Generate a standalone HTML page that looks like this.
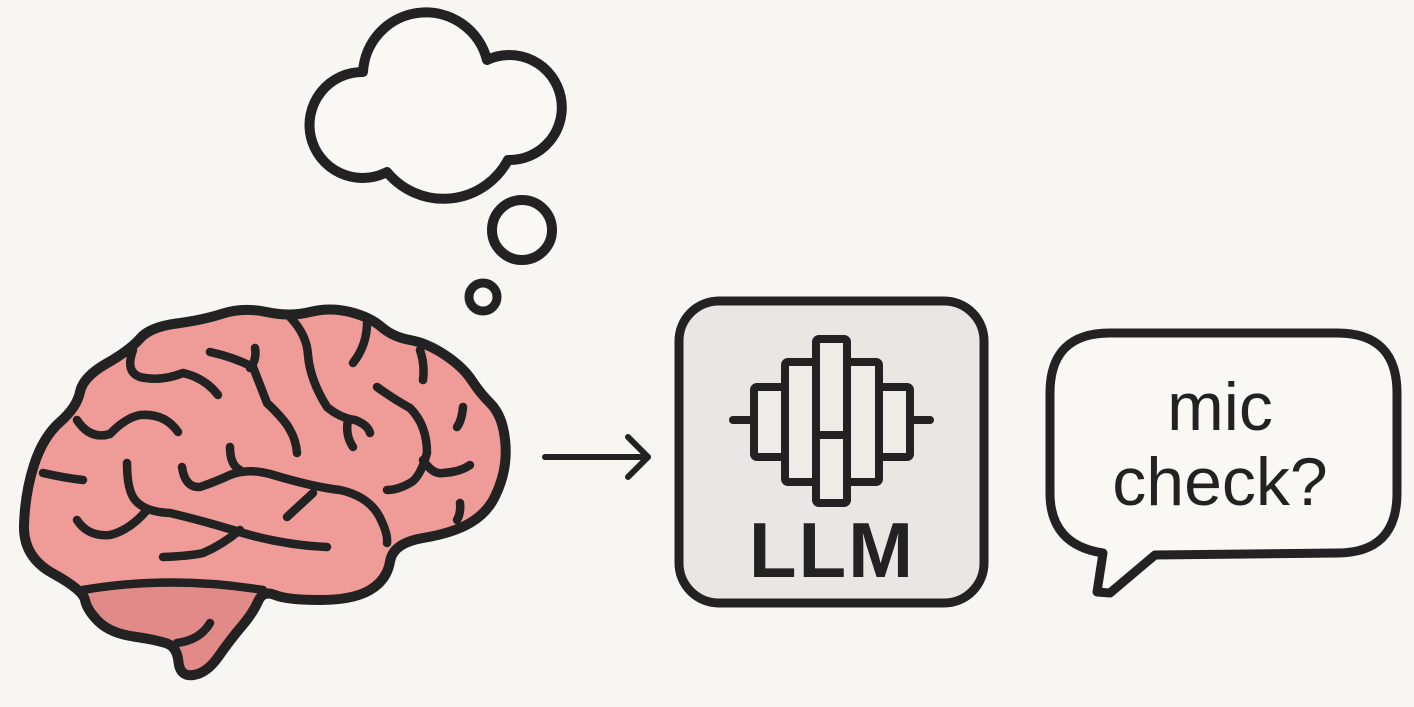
<!DOCTYPE html>
<html><head><meta charset="utf-8"><style>
html,body{margin:0;padding:0;background:#f8f6f2;}
svg{display:block;}
</style></head><body>
<svg width="1414" height="707" viewBox="0 0 1414 707" xmlns="http://www.w3.org/2000/svg">
<rect width="1414" height="707" fill="#f8f6f2"/>
<!-- thought cloud -->
<path d="M363,72 A63,63 0 0 1 487,60 A52.5,52.5 0 1 1 508,160 A73,73 0 0 1 387,172 A53,53 0 1 1 363,72 Z" fill="#f9f8f5" stroke="#222" stroke-width="10" stroke-linejoin="round"/>
<circle cx="522" cy="230" r="30" fill="#f9f8f5" stroke="#222" stroke-width="10"/>
<circle cx="483" cy="297" r="14" fill="#f9f8f5" stroke="#222" stroke-width="9"/>
<!-- brain -->
<g stroke-linecap="round" stroke-linejoin="round" fill="none">
<path d="M85,600 Q83,590 53,573.5 Q23,557 24,525 Q25,493 34,465 Q43,437 60,422 Q77,407 80,392 Q83,377 106.5,363.5 Q130,350 140,338.5 Q150,327 176.5,323.5 Q203,320 223,313.5 Q243,307 266.5,312 Q290,317 310,312 Q330,307 350,312 Q370,317 381.5,327 Q393,337 410,340 Q427,343 445,355 Q463,367 471.5,380 Q480,393 490,403 Q500,413 503.5,430 Q507,447 505,463.5 Q503,480 495,496.5 Q487,513 470,523 Q453,533 423,538 Q393,543 390,561.5 Q387,580 370,590 Q353,600 320,600 Q287,600 275,595 Q263,590 258,601.5 Q253,613 241.5,626.5 Q230,640 218.5,656.5 Q207,673 193.5,675 Q180,677 178.5,662 Q177,647 167,643.5 Q157,640 133.5,636.5 Q110,633 98.5,621.5 Q87,610 85,600 Z" fill="#ef9b98" stroke="none"/>
<path d="M83,590 Q170,575 263,590 L258,601 Q253,613 241,627 Q230,640 218,657 Q207,673 193,675 Q180,677 178,662 Q177,647 167,643 Q157,640 133,636 Q110,633 98,621 Q87,610 83,590 Z" fill="#e28a88" stroke="none"/>
<path d="M85,600 Q83,590 53,573.5 Q23,557 24,525 Q25,493 34,465 Q43,437 60,422 Q77,407 80,392 Q83,377 106.5,363.5 Q130,350 140,338.5 Q150,327 176.5,323.5 Q203,320 223,313.5 Q243,307 266.5,312 Q290,317 310,312 Q330,307 350,312 Q370,317 381.5,327 Q393,337 410,340 Q427,343 445,355 Q463,367 471.5,380 Q480,393 490,403 Q500,413 503.5,430 Q507,447 505,463.5 Q503,480 495,496.5 Q487,513 470,523 Q453,533 423,538 Q393,543 390,561.5 Q387,580 370,590 Q353,600 320,600 Q287,600 275,595 Q263,590 258,601.5 Q253,613 241.5,626.5 Q230,640 218.5,656.5 Q207,673 193.5,675 Q180,677 178.5,662 Q177,647 167,643.5 Q157,640 133.5,636.5 Q110,633 98.5,621.5 Q87,610 85,600 Z" stroke="#222" stroke-width="10"/>
<g stroke="#222" stroke-width="8.5">
<path d="M83,590 Q170,575 263,590"/>
<path d="M210,623 Q200,640 177,643"/>
<path d="M210,352 Q233,357 253,367 Q262,390 267,403 Q285,420 290,430 Q296,440 297,453"/>
<path d="M255,348 Q257,360 250,368"/>
<path d="M133,350 Q125,372 140,377 Q160,382 183,373 Q205,378 218,395"/>
<path d="M77,420 Q90,440 110,434 Q125,418 140,415 Q165,413 178,432"/>
<path d="M43,473 Q65,478 83,480"/>
<path d="M127,463 Q127,490 135,500 Q145,512 170,513 Q200,520 233,530 Q280,545 327,547"/>
<path d="M77,520 Q88,537 110,535 Q130,530 147,510"/>
<path d="M182,467 Q185,488 200,487 Q215,482 230,475 Q248,468 270,474 Q313,487 340,490 Q372,497 382,522 Q388,535 387,543"/>
<path d="M230,447 Q230,465 240,470"/>
<path d="M287,517 Q300,505 313,493"/>
<path d="M163,557 Q190,556 203,553 Q222,545 240,530"/>
<path d="M290,317 Q307,335 308,355 Q310,380 327,407 Q340,418 355,420 Q368,425 370,433"/>
<path d="M348,420 Q345,435 353,447"/>
<path d="M367,323 Q367,345 353,363"/>
<path d="M377,387 Q395,400 410,408 Q427,425 427,453 Q420,478 410,483 Q398,490 387,490"/>
<path d="M420,350 Q425,365 423,380"/>
<path d="M463,407 Q462,420 457,427"/>
<path d="M423,460 Q433,475 443,473 Q460,472 470,465"/>
<path d="M460,503 Q461,513 457,520"/>
</g>
</g>
<!-- arrow -->
<g stroke="#222" stroke-width="6" stroke-linecap="round" stroke-linejoin="round" fill="none">
<line x1="545" y1="457" x2="648" y2="457"/>
<polyline points="628,437 648,457 628,477"/>
</g>
<!-- LLM box -->
<rect x="679" y="301" width="305" height="302" rx="40" fill="#e9e7e3" stroke="#222" stroke-width="9"/>
<g stroke="#222" stroke-width="8" stroke-linecap="round" stroke-linejoin="round" fill="#eeece8">
<line x1="733" y1="420" x2="930" y2="420"/>
<rect x="754" y="387" width="32" height="70" rx="3"/>
<rect x="878" y="387" width="32" height="70" rx="3"/>
<rect x="785" y="362" width="32" height="120" rx="3"/>
<rect x="847" y="362" width="32" height="120" rx="3"/>
<rect x="816" y="339" width="31" height="164" rx="3"/>
<line x1="816" y1="435" x2="847" y2="435"/>
</g>
<text x="832" y="577" font-family="Liberation Sans, sans-serif" font-weight="bold" font-size="78" text-anchor="middle" fill="#222" letter-spacing="2">LLM</text>
<!-- speech bubble -->
<path d="M1110,333 L1337,333 Q1397,333 1397,393 L1397,493 Q1397,553 1337,553 L1155,555 L1110,593 L1097,592 L1103,553 Q1050,545 1050,493 L1050,393 Q1050,333 1110,333 Z" fill="#f9f8f5" stroke="#222" stroke-width="9" stroke-linejoin="round"/>
<text x="1220" y="430" font-family="Liberation Sans, sans-serif" font-size="68" text-anchor="middle" fill="#222">mic</text>
<text x="1220" y="505" font-family="Liberation Sans, sans-serif" font-size="68" text-anchor="middle" fill="#222">check?</text>
</svg>
</body></html>
